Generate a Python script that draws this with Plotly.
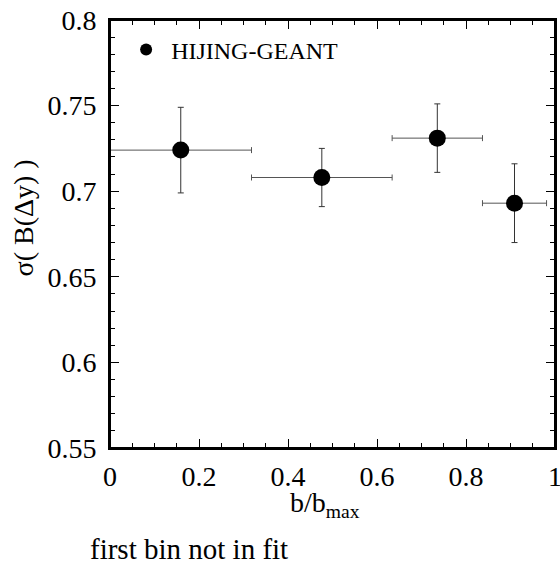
import plotly.graph_objects as go

b_centers = [0.159, 0.476, 0.7355, 0.909]
b_halfwidth = [0.159, 0.158, 0.1015, 0.072]
sigma_vals = [0.724, 0.708, 0.731, 0.693]
sigma_err_plus = [0.025, 0.017, 0.020, 0.023]
sigma_err_minus = [0.025, 0.017, 0.020, 0.023]
x_ticks = [0, 0.2, 0.4, 0.6, 0.8, 1]
x_ticklabels = ["0", "0.2", "0.4", "0.6", "0.8", "1"]
y_ticks = [0.55, 0.6, 0.65, 0.7, 0.75, 0.8]
y_ticklabels = ["0.55", "0.6", "0.65", "0.7", "0.75", "0.8"]

SERIF = "Liberation Serif"

fig = go.Figure()
fig.add_trace(go.Scatter(
    x=b_centers, y=sigma_vals, mode="markers", name="HIJING-GEANT",
    marker=dict(color="black", size=17, symbol="circle"),
    error_x=dict(type="data", array=b_halfwidth, color="#555555", thickness=1, width=3),
    error_y=dict(type="data", array=sigma_err_plus, arrayminus=sigma_err_minus,
                 color="#333333", thickness=1, width=3),
))

axis_common = dict(
    showgrid=False, zeroline=False, showline=True, linecolor="black", linewidth=2,
    mirror="allticks", ticks="inside", ticklen=9, tickwidth=1, tickcolor="black",
    tickfont=dict(family=SERIF, size=28, color="black"), automargin=False,
    ticklabeloverflow="allow",
)
fig.update_xaxes(range=[0, 1], tickvals=x_ticks, ticktext=x_ticklabels,
                 minor=dict(dtick=0.05, ticklen=5, ticks="inside", tickcolor="black"),
                 ticklabelstandoff=2, **axis_common)
fig.update_yaxes(range=[0.55, 0.8], tickvals=y_ticks, ticktext=y_ticklabels,
                 minor=dict(dtick=0.01, ticklen=5, ticks="inside", tickcolor="black"),
                 ticklabelstandoff=6, **axis_common)

fig.update_layout(
    width=560, height=565,
    margin=dict(l=110, r=5, t=20, b=117, autoexpand=False),
    plot_bgcolor="white", paper_bgcolor="white",
    showlegend=True,
    legend=dict(x=0.025, y=0.93, xanchor="left", yanchor="middle", itemwidth=40,
                bgcolor="rgba(0,0,0,0)", font=dict(family=SERIF, size=24, color="black"),
                itemsizing="constant"),
    shapes=[dict(type="rect", xref="paper", yref="paper", x0=0, x1=1, y0=0, y1=1,
                 line=dict(color="black", width=2), fillcolor="rgba(0,0,0,0)",
                 layer="above")],
    annotations=[
        dict(text="σ( B(Δy) )", textangle=-90, xref="paper", yref="paper",
             x=-0.195, y=0.537, xanchor="center", yanchor="middle", showarrow=False,
             font=dict(family=SERIF, size=28, color="black")),
        dict(text="b/b<sub>max</sub>", xref="paper", yref="paper",
             x=0.483, y=-0.132, xanchor="center", yanchor="middle", showarrow=False,
             font=dict(family=SERIF, size=28, color="black")),
        dict(text="first bin not in fit", xref="paper", yref="paper",
             x=-0.049, y=-0.235, xanchor="left", yanchor="middle", showarrow=False,
             font=dict(family=SERIF, size=29, color="black")),
    ],
)

fig.write_html(
    "out.html",
    config={"displayModeBar": False},
    post_script="document.body.style.margin='0';document.body.style.overflow='hidden';",
)
